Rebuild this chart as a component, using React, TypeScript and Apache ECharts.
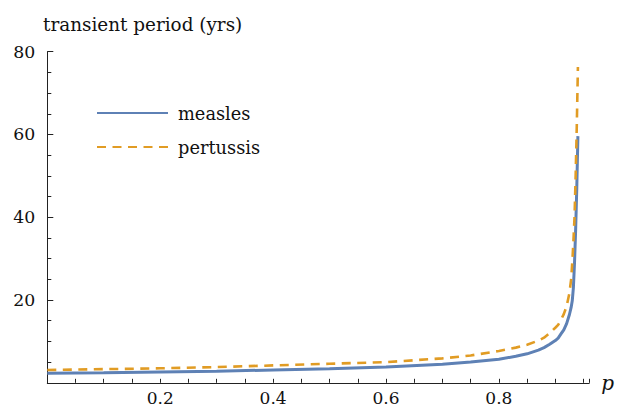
import React, { useEffect, useRef } from "react";
import * as echarts from "echarts";

const pValues = [0, 0.1, 0.2, 0.3, 0.4, 0.5, 0.6, 0.7, 0.75, 0.8, 0.83, 0.85, 0.87, 0.88, 0.89, 0.9, 0.905, 0.91, 0.915, 0.92, 0.925, 0.928, 0.93, 0.932, 0.934, 0.936, 0.938, 0.94];
const measles = [2.3, 2.4, 2.6, 2.8, 3.1, 3.4, 3.8, 4.5, 5.0, 5.7, 6.4, 7.0, 7.9, 8.5, 9.3, 10.2, 10.8, 11.8, 12.8, 14.3, 16.5, 18.2, 19.8, 23, 29, 37, 47, 59.6];
const pertussis = [3.1, 3.3, 3.5, 3.8, 4.2, 4.6, 5.0, 5.9, 6.6, 7.7, 8.5, 9.2, 10.2, 10.9, 12.0, 13.3, 14.0, 15.2, 16.6, 18.5, 21.7, 25, 29, 34, 40, 50, 62, 76.3];
const seriesNames = ["measles", "pertussis"];
const yTitle = "transient period (yrs)";
const xTitle = "p";

const FONT = "DejaVu Serif";

export default function App() {
  const ref = useRef<HTMLDivElement>(null);
  useEffect(() => {
    if (!ref.current) return;
    const chart = echarts.init(ref.current, undefined, { renderer: "svg" });
    chart.setOption({
      animation: false,
      backgroundColor: "#ffffff",
      graphic: [
        {
          type: "text",
          x: 43,
          y: 33.5,
          style: {
            text: yTitle,
            fontFamily: FONT,
            fontSize: 18.4,
            fill: "#111",
            align: "left",
            verticalAlign: "bottom",
          },
        },
      ],
      grid: { left: 47.3, right: 27.3, top: 51.7, bottom: 26.2, containLabel: false },
      legend: {
        orient: "vertical",
        left: 96,
        top: 102,
        padding: 0,
        itemWidth: 71,
        itemHeight: 22,
        itemGap: 12,
        itemStyle: { opacity: 0 },
        textStyle: { fontFamily: FONT, fontSize: 17.8, color: "#111", lineHeight: 22, padding: [0, 0, 0, 5] },
        data: seriesNames,
      },
      xAxis: {
        type: "value",
        min: 0,
        max: 0.96,
        interval: 0.05,
        name: xTitle,
        nameLocation: "end",
        nameGap: 12,
        nameTextStyle: { fontFamily: FONT, fontSize: 20, fontStyle: "italic", color: "#111" },
        axisLine: { show: true, onZero: true, lineStyle: { color: "#222", width: 1 } },
        axisTick: { show: true, inside: true, length: 4, lineStyle: { color: "#222" } },
        splitLine: { show: false },
        axisLabel: {
          fontFamily: FONT,
          fontSize: 17,
          lineHeight: 18,
          color: "#111",
          margin: 6,
          formatter: (v: number) => {
            const r = v / 0.2;
            if (v > 0 && Math.abs(r - Math.round(r)) < 1e-6) return v.toFixed(1);
            return "";
          },
        },
      },
      yAxis: {
        type: "value",
        min: 0,
        max: 80,
        interval: 20,
        axisLine: { show: true, lineStyle: { color: "#222", width: 1 } },
        axisTick: { show: true, inside: true, length: 6, lineStyle: { color: "#222" } },
        minorTick: { show: true, splitNumber: 4, length: 4, lineStyle: { color: "#222" } },
        splitLine: { show: false },
        minorSplitLine: { show: false },
        axisLabel: {
          fontFamily: FONT,
          fontSize: 17.3,
          color: "#111",
          margin: 12,
          formatter: (v: number) => (v === 0 ? "" : String(v)),
        },
      },
      series: [
        {
          name: seriesNames[0],
          type: "line",
          symbol: "none",
          data: pValues.map((p, i) => [p, measles[i]]),
          lineStyle: { color: "#5E81B5", width: 3 },
          itemStyle: { color: "#5E81B5" },
          z: 2,
        },
        {
          name: seriesNames[1],
          type: "line",
          symbol: "none",
          data: pValues.map((p, i) => [p, pertussis[i]]),
          lineStyle: { color: "#E19C24", width: 2.6, type: [9, 6.5] },
          itemStyle: { color: "#E19C24" },
          z: 3,
        },
      ],
    });
    return () => chart.dispose();
  }, []);
  return <div ref={ref} style={{ width: 617, height: 409, position: "absolute", left: 0, top: 0 }} />;
}
